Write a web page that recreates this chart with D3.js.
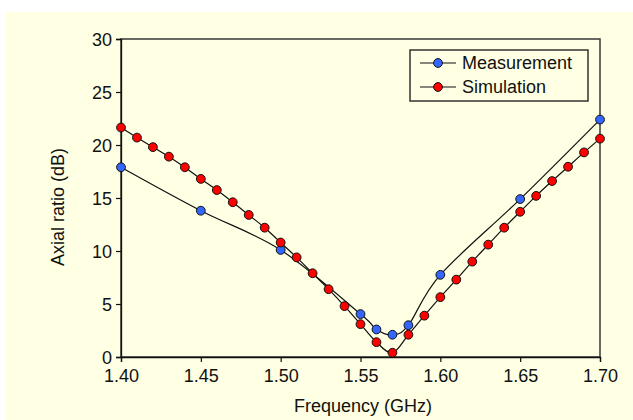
<!DOCTYPE html>
<html>
<head>
<meta charset="utf-8">
<script src="https://cdn.jsdelivr.net/npm/d3@7"></script>
<style>
  body { margin: 0; background: #fff; }
  svg text { font-family: Arial, "Liberation Sans", sans-serif; fill: #111; }
</style>
</head>
<body>
<div id="chart"></div>
<script>
// Measurement points
const measFreq = [1.40, 1.45, 1.50, 1.55, 1.56, 1.57, 1.58, 1.60, 1.65, 1.70];
const measAR   = [17.9, 13.8, 10.1, 4.05, 2.6, 2.1, 3.0, 7.75, 14.9, 22.4];

// Simulation points
const simFreq = [1.40, 1.41, 1.42, 1.43, 1.44, 1.45, 1.46, 1.47, 1.48, 1.49,
                 1.50, 1.51, 1.52, 1.53, 1.54, 1.55, 1.56, 1.57, 1.58, 1.59,
                 1.60, 1.61, 1.62, 1.63, 1.64, 1.65, 1.66, 1.67, 1.68, 1.69, 1.70];
const simAR   = [21.65, 20.7, 19.8, 18.9, 17.9, 16.8, 15.75, 14.6, 13.4, 12.2,
                 10.8, 9.4, 7.9, 6.4, 4.8, 3.1, 1.4, 0.4, 2.1, 3.9,
                 5.65, 7.3, 9.0, 10.6, 12.2, 13.7, 15.2, 16.6, 17.95, 19.3, 20.6];

const xTicks = [1.40, 1.45, 1.50, 1.55, 1.60, 1.65, 1.70];
const yTicks = [0, 5, 10, 15, 20, 25, 30];

const SERIES = [
  { name: 'Measurement', freq: measFreq, ar: measAR, color: '#3366ff' },
  { name: 'Simulation',  freq: simFreq,  ar: simAR,  color: '#ff0000' }
];

const W = 633, H = 420;
const PLOT = { left: 121, top: 39, right: 600, bottom: 357 };
const MARKER = 4.4;
const FONT = 18;

const x = d3.scaleLinear().domain([1.40, 1.70]).range([PLOT.left, PLOT.right]);
const y = d3.scaleLinear().domain([0, 30]).range([PLOT.bottom, PLOT.top]);

const svg = d3.select('#chart').append('svg')
  .attr('width', W)
  .attr('height', H);

// Chart background
svg.append('rect')
  .attr('x', 6).attr('y', 12)
  .attr('width', W - 6).attr('height', H - 12)
  .attr('fill', '#ffffe3');

// Plot frame
svg.append('rect')
  .attr('x', PLOT.left).attr('y', PLOT.top)
  .attr('width', PLOT.right - PLOT.left)
  .attr('height', PLOT.bottom - PLOT.top)
  .attr('fill', 'none')
  .attr('stroke', '#444')
  .attr('stroke-width', 1.6);

// Axes
let yAxis = svg.append('g')
  .attr('transform', `translate(${PLOT.left},0)`)
  .call(d3.axisLeft(y).tickValues(yTicks).tickSize(5).tickPadding(4).tickFormat(d3.format('d')));
let xAxis = svg.append('g')
  .attr('transform', `translate(0,${PLOT.bottom})`)
  .call(d3.axisBottom(x).tickValues(xTicks).tickSize(5).tickFormat(d3.format('.2f')));

for (let a of [xAxis, yAxis]) {
  a.select('.domain').attr('stroke', '#111').attr('stroke-width', 1.3);
  a.selectAll('.tick line').attr('stroke', '#111').attr('stroke-width', 1.2);
  a.selectAll('.tick text').attr('font-size', FONT).attr('fill', '#111');
}
yAxis.selectAll('.tick text').attr('dy', '0.38em');
xAxis.selectAll('.tick text').attr('y', 25).attr('dy', 0);

// Axis titles
svg.append('text')
  .text('Frequency (GHz)')
  .attr('x', 363)
  .attr('y', 412)
  .attr('text-anchor', 'middle')
  .attr('font-size', FONT);

svg.append('text')
  .text('Axial ratio (dB)')
  .attr('transform', `translate(64,207) rotate(-90)`)
  .attr('text-anchor', 'middle')
  .attr('font-size', FONT);

// Series lines + markers
const line = d3.line()
  .x(d => x(d[0]))
  .y(d => y(d[1]))
  .curve(d3.curveCardinal.tension(0));

for (let s of SERIES) {
  let pts = s.freq.map((f, i) => [f, s.ar[i]]);
  svg.append('path')
    .datum(pts)
    .attr('d', line)
    .attr('fill', 'none')
    .attr('stroke', '#111')
    .attr('stroke-width', 1.2);
}
for (let s of SERIES) {
  let pts = s.freq.map((f, i) => [f, s.ar[i]]);
  svg.append('g').selectAll('circle')
      .data(pts)
    .enter().append('circle')
      .attr('cx', d => x(d[0]))
      .attr('cy', d => y(d[1]))
      .attr('r', MARKER)
      .attr('fill', s.color)
      .attr('stroke', '#111')
      .attr('stroke-width', 1);
}

// Legend
const legend = svg.append('g');
legend.append('rect')
  .attr('x', 410).attr('y', 50)
  .attr('width', 178).attr('height', 51)
  .attr('fill', 'none')
  .attr('stroke', '#333')
  .attr('stroke-width', 1.5);

SERIES.forEach((s, i) => {
  let ly = 63 + i * 24;
  legend.append('line')
    .attr('x1', 420).attr('x2', 456)
    .attr('y1', ly).attr('y2', ly)
    .attr('stroke', '#111').attr('stroke-width', 1.2);
  legend.append('circle')
    .attr('cx', 438).attr('cy', ly)
    .attr('r', MARKER)
    .attr('fill', s.color)
    .attr('stroke', '#111');
  legend.append('text')
    .text(s.name)
    .attr('x', 462).attr('y', ly)
    .attr('dy', '0.36em')
    .attr('font-size', FONT);
});
</script>
</body>
</html>
